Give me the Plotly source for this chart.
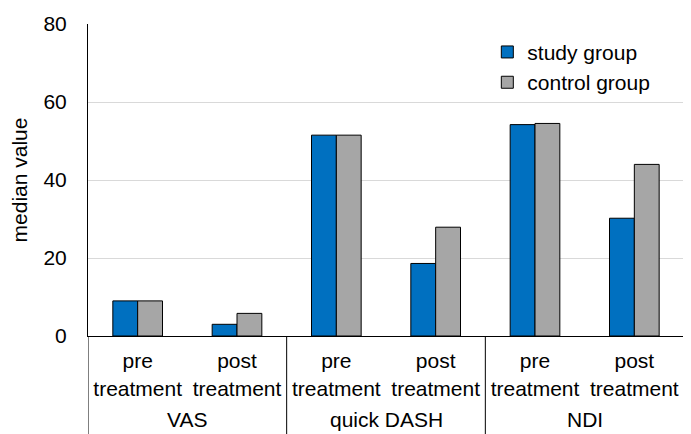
import plotly.graph_objects as go

categories = ["VAS pre", "VAS post", "quick DASH pre", "quick DASH post", "NDI pre", "NDI post"]
phase_labels = ["pre<br>treatment", "post<br>treatment"] * 3
group_names = ["VAS", "quick DASH", "NDI"]
study = [9, 3, 51.5, 18.6, 54.2, 30.2]
control = [9, 5.8, 51.5, 27.9, 54.5, 44.0]

fig = go.Figure()
fig.add_trace(go.Bar(x=categories, y=study, name="study group",
                     marker=dict(color="#0070C0", line=dict(color="#000000", width=1))))
fig.add_trace(go.Bar(x=categories, y=control, name="control group",
                     marker=dict(color="#A6A6A6", line=dict(color="#000000", width=1))))

# page body has an 8px margin in the browser; compensate in the figure margins
fig.update_layout(
    width=691, height=434,
    margin=dict(l=80, r=15, t=16, b=106),
    paper_bgcolor="white", plot_bgcolor="white",
    barmode="group", bargap=0.5, bargroupgap=0,
    font=dict(family="Liberation Sans, Arial, sans-serif", size=21, color="#000000"),
    showlegend=True,
    legend=dict(x=0.67, y=0.975, xanchor="left", yanchor="top",
                bgcolor="rgba(0,0,0,0)", font=dict(size=21),
                itemwidth=30, tracegroupgap=0),
    xaxis=dict(type="category", showline=True, linecolor="#000000", linewidth=1,
               tickvals=categories, ticktext=phase_labels,
               ticks="", tickfont=dict(size=21), ticklabelstandoff=6, automargin=False,
               range=[-0.5, 5.5]),
    yaxis=dict(range=[0, 80], dtick=20, showgrid=True, gridcolor="#D9D9D9", gridwidth=1,
               showline=True, linecolor="#000000", linewidth=1, zeroline=False,
               ticks="", tickfont=dict(size=21), ticklabelstandoff=16, automargin=False,
               title=dict(text="median value", font=dict(size=21), standoff=10)),
)

# group labels and dividers below the axis
for i, g in enumerate(group_names):
    fig.add_annotation(x=2 * i + 0.5, xref="x", y=-0.268, yref="paper",
                       text=g, showarrow=False, yanchor="middle",
                       font=dict(size=21))
for b in [-0.5, 1.5, 3.5, 5.5]:
    fig.add_shape(type="line", xref="x", yref="paper", x0=b, x1=b, y0=0, y1=-0.4,
                  line=dict(color="#000000", width=1))

fig.write_html("out.html")
